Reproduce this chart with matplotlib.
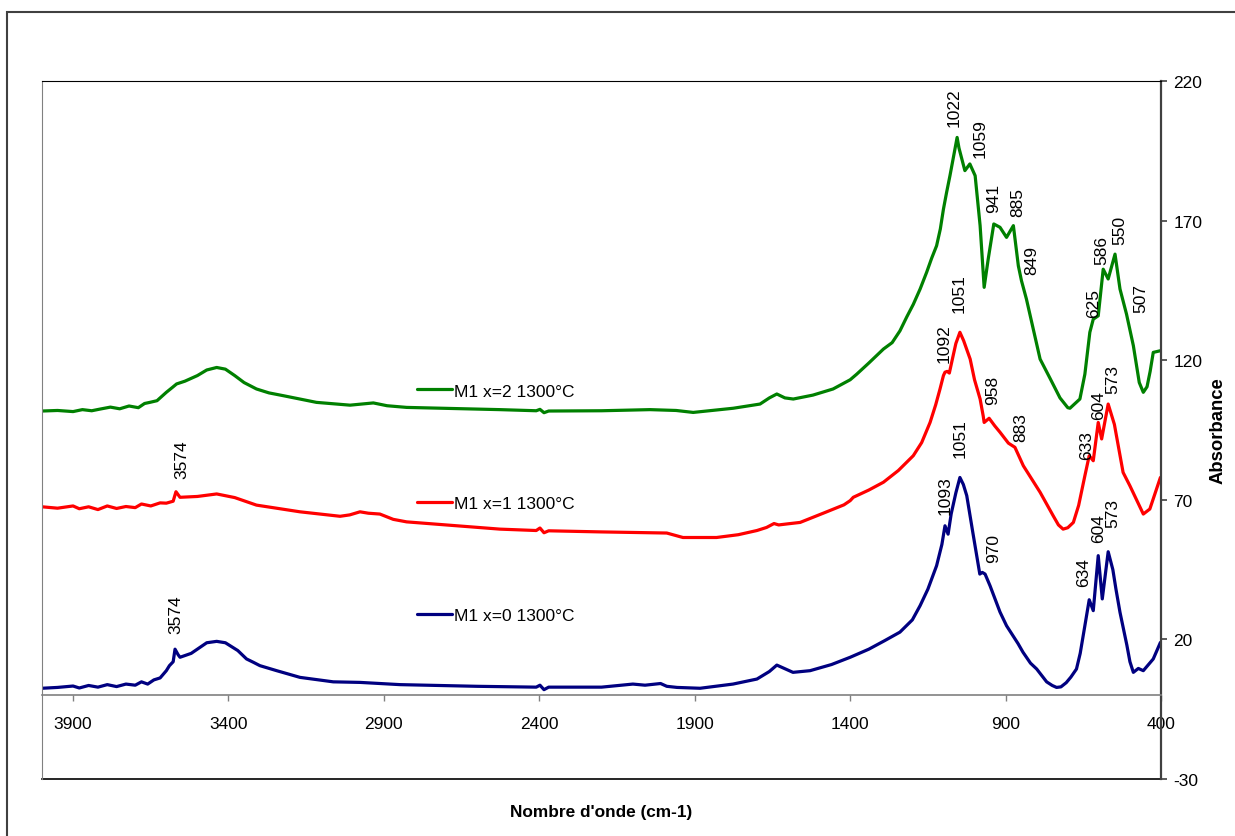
import matplotlib
matplotlib.use("Agg")
import matplotlib.pyplot as plt
from matplotlib.lines import Line2D
from matplotlib.legend import Legend
from matplotlib.patches import Rectangle

plt.rcParams['font.family'] = ['Liberation Sans', 'DejaVu Sans']
plt.rcParams['axes.unicode_minus'] = False

# M1 x=0 1300°C
wn_x0 = [4000, 3950, 3900, 3880, 3850, 3820, 3790, 3760, 3730, 3700, 3680, 3660, 3640, 3620,
         3600, 3590, 3578, 3572, 3562, 3556, 3520, 3470, 3438, 3410, 3370, 3342, 3320, 3299, 3245, 3170,
         3063, 2977, 2848, 2600, 2410, 2398, 2385, 2370, 2200, 2099, 2060, 2010, 1990, 1957,
         1883, 1777, 1700, 1660, 1636, 1610, 1584, 1529, 1460, 1400, 1340, 1290, 1240, 1200,
         1175, 1150, 1122, 1105, 1095, 1085, 1075, 1060, 1047, 1036, 1025, 1005, 983, 975, 966, 950, 918, 897, 860, 844,
         820, 800, 768, 750, 736, 722, 705, 690, 672, 660, 645, 631, 618, 602, 589, 570, 555, 545, 532,
         510, 500, 489, 473, 457, 425, 402]
ab_x0 = [2.5, 2.8, 3.3, 2.6, 3.5, 2.9, 3.8, 3.1, 4.0, 3.6, 4.8, 4.0, 5.5, 6.2,
         8.8, 10.6, 12.0, 16.5, 14.5, 13.6, 15.0, 18.8, 19.3, 18.8, 16.0, 13.0, 11.8, 10.6, 8.8, 6.4,
         4.8, 4.6, 3.8, 3.2, 2.9, 3.6, 2.0, 2.9, 2.9, 4.0, 3.6, 4.2, 3.2, 2.8,
         2.5, 4.0, 5.8, 8.5, 10.8, 9.5, 8.2, 8.8, 11.0, 13.6, 16.5, 19.5, 22.6, 27.0,
         32.1, 38.0, 46.4, 54.0, 60.7, 57.7, 65.0, 72.5, 78.0, 75.5, 71.5, 58.0, 43.4, 44.0, 43.4, 39.2, 29.8, 24.9, 18.5, 15.4,
         11.5, 9.4, 4.8, 3.5, 2.8, 3.0, 4.5, 6.5, 9.4, 15.0, 24.9, 34.2, 30.3, 50.0, 34.5, 51.4, 45.0, 38.0, 29.7,
         18.0, 12.0, 8.2, 9.6, 8.8, 13.0, 18.9]

# M1 x=1 1300°C
wn_x1 = [4000, 3950, 3900, 3880, 3850, 3820, 3790, 3760, 3730, 3700, 3680, 3650, 3620, 3600,
         3578, 3569, 3556, 3500, 3438, 3380, 3310, 3170, 3041, 3010, 2977, 2950, 2913, 2870,
         2827, 2527, 2410, 2398, 2385, 2370, 2200, 1990, 1938, 1830, 1760, 1700, 1669, 1645, 1630, 1600,
         1561, 1480, 1420, 1400, 1390, 1340, 1293, 1245, 1197, 1170, 1143, 1125, 1111, 1100, 1095, 1088,
         1081, 1070, 1060, 1047, 1035, 1014, 1000, 982, 972,
         969, 953, 935, 918, 891, 870, 843, 789, 747, 730, 715, 700, 682, 665, 645, 631, 618, 602, 591, 570,
         550, 522, 500, 457, 436, 402]
ab_x1 = [67.5, 67.0, 67.8, 66.8, 67.5, 66.5, 67.8, 66.9, 67.6, 67.2, 68.5, 67.8, 68.9, 68.8,
         69.5, 72.9, 70.9, 71.2, 72.1, 70.8, 68.1, 65.7, 64.1, 64.6, 65.7, 65.2, 64.9, 63.0,
         62.1, 59.5, 59.0, 59.9, 58.2, 58.9, 58.5, 58.1, 56.5, 56.5, 57.5, 59.0, 60.1, 61.5, 61.0, 61.4,
         61.9, 65.5, 68.2, 69.7, 70.9, 73.5, 76.3, 80.5, 85.8, 90.5, 97.7, 104.0, 109.7, 114.5, 115.7, 116.0,
         115.4, 121.0, 126.0, 130.0, 127.0, 120.4, 113.0, 106.1, 100.0,
         97.7, 99.2, 96.5, 94.2, 90.3, 88.8, 82.2, 72.7, 64.3, 61.0, 59.5, 60.0, 61.9, 68.0, 78.6, 85.8, 84.0, 97.7, 91.8, 104.3,
         97.0, 79.8, 75.0, 64.9, 66.7, 78.0]

# M1 x=2 1300°C
wn_x2 = [4000, 3950, 3900, 3870, 3840, 3813, 3780, 3750, 3720, 3690, 3670, 3653, 3630, 3600,
         3580, 3567, 3540, 3500, 3470, 3438, 3410, 3380, 3350, 3310, 3270, 3224, 3117, 3009, 2934, 2890, 2827, 2527,
         2410, 2398, 2385, 2370, 2200, 2044, 1960, 1905, 1776, 1690, 1660, 1636, 1610, 1583,
         1520, 1455, 1400, 1379, 1340, 1293, 1265, 1240, 1218, 1197, 1175, 1154, 1138, 1122, 1110, 1100, 1090,
         1079, 1063, 1056, 1050, 1031, 1015, 998,
         982, 969, 956, 938, 918, 897, 875, 859, 849, 833, 789, 757, 725, 700, 693, 661, 645, 629,
         618, 602, 586, 570, 548, 532, 511, 489, 470, 457, 445, 435, 425, 402]
ab_x2 = [101.8, 102.0, 101.6, 102.3, 101.9, 102.5, 103.2, 102.6, 103.6, 103.0, 104.5, 104.9, 105.5, 108.5,
         110.3, 111.5, 112.5, 114.5, 116.5, 117.4, 116.8, 114.5, 112.0, 109.7, 108.3, 107.3, 104.9, 103.9, 104.7, 103.7, 103.1, 102.3,
         101.9, 102.4, 101.2, 101.8, 101.9, 102.3, 102.0, 101.3, 102.8, 104.3, 106.5, 107.9, 106.5, 106.1,
         107.5, 109.7, 113.0, 115.0, 119.0, 124.0, 126.3, 130.5, 135.5, 140.0, 145.5, 151.5, 156.5, 161.0, 167.0, 174.1, 180.0,
         186.1, 195.6, 199.8, 196.0, 187.9, 190.3, 186.1,
         168.2, 146.1, 156.2, 168.8, 167.6, 164.0, 168.2, 153.8, 148.5, 141.9, 120.4, 113.5, 106.5, 103.0, 102.8, 106.1, 115.0, 130.0,
         134.7, 135.9, 152.6, 149.1, 158.0, 145.5, 136.5, 125.2, 112.0, 108.5, 110.5, 116.0, 122.8, 123.4]

# annotations des pics (texte, nombre d'onde, absorbance)
pics_x0 = [("3574", 3569, 22.3), ("1093", 1096, 64.9), ("1051", 1045, 85.2), ("970", 940, 47.8),
           ("634", 650, 39.2), ("604", 602, 54.8), ("573", 554, 60.1)]
pics_x1 = [("3574", 3551, 77.7), ("1092", 1097, 119.2), ("1051", 1049, 137.4), ("958", 942, 104.3),
           ("883", 852, 91.2), ("633", 640, 84.6), ("604", 602, 98.9), ("573", 554, 108.2)]
pics_x2 = [("1022", 1066, 204.0), ("1059", 982, 192.7), ("941", 937, 173.0), ("885", 860, 171.7),
           ("849", 817, 150.9), ("625", 618, 135.3), ("586", 591, 154.4), ("550", 534, 161.6),
           ("507", 466, 137.1)]

series = [
    ("M1 x=2 1300°C", wn_x2, ab_x2, pics_x2, "#008000", 0.556),
    ("M1 x=1 1300°C", wn_x1, ab_x1, pics_x1, "#FF0000", 0.395),
    ("M1 x=0 1300°C", wn_x0, ab_x0, pics_x0, "#000080", 0.234),
]

fig = plt.figure(figsize=(12.35, 8.37), dpi=100)
ax = fig.add_axes([0.034, 0.0681, 0.9061, 0.8339])

for nom, wn, ab, pics, couleur, y_leg in series:
    ligne, = ax.plot(wn, ab, color=couleur, lw=2.3, solid_joinstyle='round', solid_capstyle='round')
    for txt, x, y in pics:
        ax.text(x, y, txt, rotation=90, ha='center', va='bottom', fontsize=12.5)
    # une légende séparée pour chaque courbe, placée à côté de la courbe
    leg = Legend(ax, [ligne], [nom], loc='center left', bbox_to_anchor=(0.335, y_leg),
                 frameon=False, fontsize=12.5, handlelength=2.0, handletextpad=0.15,
                 borderpad=0, borderaxespad=0)
    ax.add_artist(leg)

ax.set_xlim(4000, 400)
ax.set_ylim(-30, 220)
ax.set_xticks([3900, 3400, 2900, 2400, 1900, 1400, 900, 400])
ax.set_yticks([-30, 20, 70, 120, 170, 220])

# axe des x à y=0
ax.spines['bottom'].set_position(('data', 0))
ax.spines['bottom'].set_color('#808080')
ax.spines['bottom'].set_linewidth(1.2)
ax.spines['left'].set_color('#808080')
ax.spines['top'].set_color('black')
ax.spines['right'].set_color('#404040')
ax.spines['right'].set_linewidth(1.6)
ax.add_line(Line2D([0, 1], [0, 0], transform=ax.transAxes, color='black', lw=1.2, clip_on=False))

ax.yaxis.tick_right()
ax.yaxis.set_label_position('right')
ax.tick_params(axis='y', direction='out', length=4, width=1.2, pad=5, labelsize=12.5, color='#404040')
ax.tick_params(axis='x', direction='out', length=4, width=1.0, pad=11, labelsize=12.5, color='#808080')

ax.set_ylabel("Absorbance", fontsize=13.3, fontweight='bold', labelpad=5)
ax.set_xlabel("Nombre d'onde (cm-1)", fontsize=12.4, fontweight='bold')
ax.xaxis.set_label_coords(0.5, -0.036)

# cadre extérieur de la figure
fig.patches.append(Rectangle((0.0057, -0.2), 1.5, 1.1845, transform=fig.transFigure,
                             fill=False, edgecolor='#404040', lw=1.5))

fig.savefig("out.png", dpi=100)
